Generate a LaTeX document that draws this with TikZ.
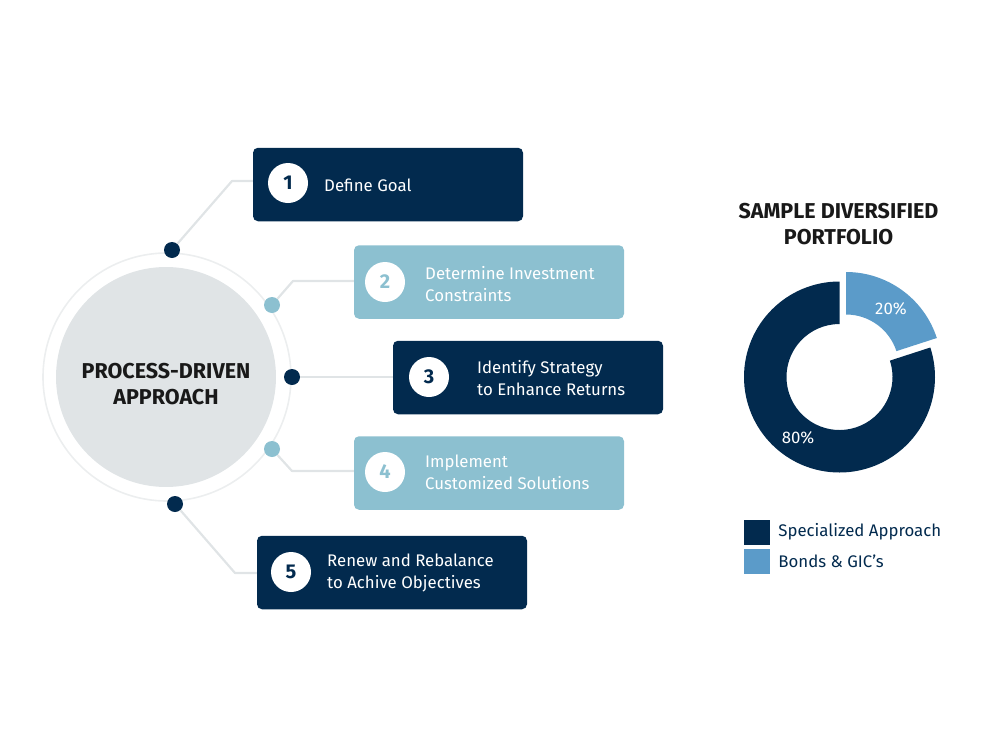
\documentclass[tikz,border=0pt]{standalone}
\usepackage{fontspec}
\setmainfont{Fira Sans}
\usepackage{tikz}
\usetikzlibrary{positioning}
\definecolor{navy}{HTML}{022A4E}
\definecolor{teal}{HTML}{8CC0D0}
\definecolor{skyblue}{HTML}{5B9BC9}
\definecolor{palegray}{HTML}{E0E4E6}
\definecolor{ringgray}{HTML}{ECEEEF}
\tikzstyle{darkbox}=[%
      rectangle, fill=navy, rounded corners=5pt, inner sep=0pt,
      minimum width=270pt, minimum height=73.5pt
]
\tikzstyle{lightbox}=[%
      rectangle, fill=teal, rounded corners=5pt, inner sep=0pt,
      minimum width=270pt, minimum height=73.5pt
]
\tikzstyle{darkdot}=[circle, fill=navy, inner sep=0pt, minimum size=16pt]
\tikzstyle{lightdot}=[circle, fill=teal, inner sep=0pt, minimum size=16pt]
\tikzstyle{badge}=[%
      circle, fill=white, inner sep=0pt, minimum size=40pt,
      font=\fontsize{20}{20}\selectfont\bfseries
]
\tikzstyle{lbl}=[%
      anchor=west, inner sep=0pt, text=white, align=left,
      font=\fontsize{16.8}{22}\selectfont
]
\tikzstyle{heading}=[%
      inner sep=0pt, align=center, text=black!90,
      font=\fontsize{21.5}{26.5}\selectfont\bfseries
]
\tikzstyle{conn}=[draw=palegray, line width=2.2pt, line join=round]
\tikzstyle{swatch}=[rectangle, inner sep=0pt, minimum width=26pt, minimum height=25pt]
\begin{document}
\begin{tikzpicture}[x=1pt, y=-1pt]
    \useasboundingbox (0,0) rectangle (986,739);

    % hub
    \node[circle, draw=ringgray, line width=1.6pt, inner sep=0pt, minimum size=248pt] (ring) at (167,377) {};
    \node[circle, fill=palegray, inner sep=0pt, minimum size=220pt] (hub) at (166,377) {};
    \node[heading] (hubtext) at (166,384) {PROCESS-DRIVEN\\APPROACH};

    % steps
    \node[darkbox]  (box1) at (388,184.5) {};
    \node[lightbox] (box2) at (489,282) {};
    \node[darkbox]  (box3) at (528,377.5) {};
    \node[lightbox] (box4) at (489,473) {};
    \node[darkbox]  (box5) at (392,572.5) {};

    \node[darkdot]  (dot1) at (172,250) {};
    \node[lightdot] (dot2) at (272,305) {};
    \node[darkdot]  (dot3) at (292,377) {};
    \node[lightdot] (dot4) at (272,449) {};
    \node[darkdot]  (dot5) at (175,504) {};

    \coordinate (bend1) at (232,181);
    \coordinate (bend2) at (293,281);
    \coordinate (bend4) at (292,471);
    \coordinate (bend5) at (235,573);

    \draw[conn] (dot1) -- (bend1) -- (bend1 -| box1.west);
    \draw[conn] (dot2) -- (bend2) -- (bend2 -| box2.west);
    \draw[conn] (dot3) -- (dot3 -| box3.west);
    \draw[conn] (dot4) -- (bend4) -- (bend4 -| box4.west);
    \draw[conn] (dot5) -- (bend5) -- (bend5 -| box5.west);

    \node[badge, text=navy] (num1) at (288,183) {1};
    \node[badge, text=teal] (num2) at (385,282) {2};
    \node[badge, text=navy] (num3) at (429,377) {3};
    \node[badge, text=teal] (num4) at (385,472) {4};
    \node[badge, text=navy] (num5) at (291,572) {5};

    \node[lbl] (text1) at (324,185.5) {Define Goal};
    \node[lbl] (text2) at (425,284.5) {Determine Investment\\Constraints};
    \node[lbl] (text3) at (477,378.5) {Identify Strategy\\to Enhance Returns};
    \node[lbl] (text4) at (425,472.5) {Implement\\Customized Solutions};
    \node[lbl] (text5) at (327,572.5) {Renew and Rebalance\\to Achive Objectives};

    % donut
    \node[heading] (title) at (838.5,224) {SAMPLE DIVERSIFIED\\PORTFOLIO};
    \fill[navy] (839.5,377) ++(-90:95.5) arc[start angle=-90, end angle=-378, radius=95.5]
        -- ++(-198:42.5) arc[start angle=-378, end angle=-90, radius=53] -- cycle;
    \fill[skyblue] (846,367.5) ++(-90:95.5) arc[start angle=-90, end angle=-18, radius=95.5]
        -- ++(-198:42.5) arc[start angle=-18, end angle=-90, radius=53] -- cycle;
    \node[lbl, anchor=center] (pct20) at (891,309) {20\%};
    \node[lbl, anchor=center] (pct80) at (798,438) {80\%};

    % legend
    \node[swatch, fill=navy]    (key1) at (757,532) {};
    \node[swatch, fill=skyblue] (key2) at (757,561.5) {};
    \node[lbl, text=navy, right = 8pt of key1] (keytext1) {Specialized Approach};
    \node[lbl, text=navy, right = 8pt of key2] (keytext2) {Bonds \& GIC’s};
\end{tikzpicture}
\end{document}
